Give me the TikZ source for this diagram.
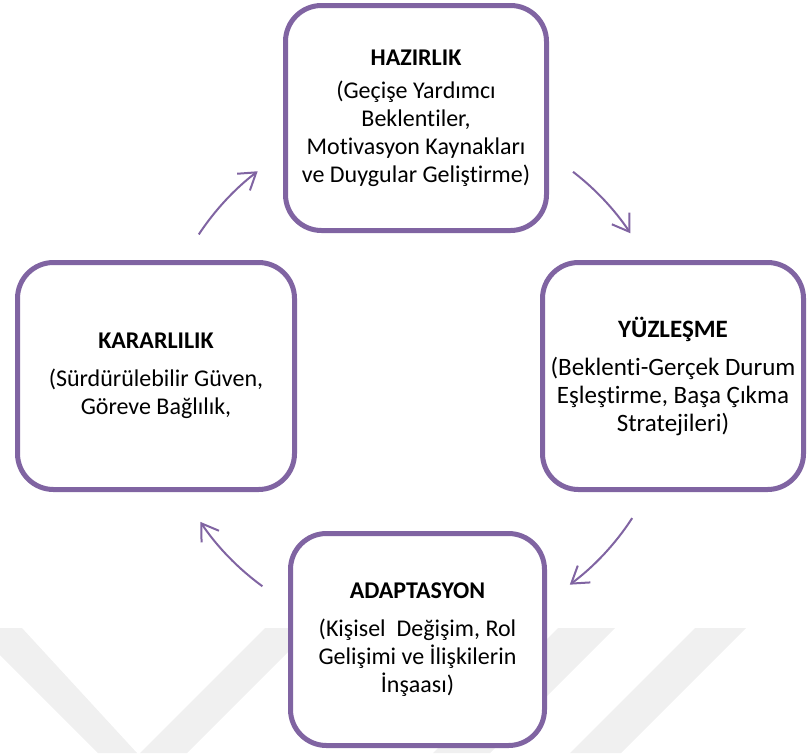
\documentclass[tikz,border=0pt]{standalone}
\usepackage{fontspec}
\setmainfont{Carlito}[Ligatures=NoCommon]
\usetikzlibrary{arrows.meta,positioning}
\definecolor{evrePurple}{RGB}{128,100,162}
\tikzstyle{stage}=[draw=evrePurple,line width=5pt,rounded corners=36pt,fill=white,align=center,font=\fontsize{24}{28}\selectfont]
\tikzstyle{cycle}=[draw=evrePurple,line width=2pt,-{Straight Barb[length=16pt,width=21pt]}]
\tikzstyle{mark bg}=[fill=black!6]

\begin{document}
\begin{tikzpicture}[x=1pt,y=-1pt]
\useasboundingbox (0,0) rectangle (808,753);
% faint watermark bands
\fill[mark bg] (0,628) -- (22,628) -- (137,753) -- (98,753) -- (0,655) -- cycle;
\fill[mark bg] (140,753) -- (187,753) -- (312,628) -- (265,628) -- cycle;
\fill[mark bg] (558,628) -- (615,628) -- (490,753) -- (433,753) -- cycle;
\fill[mark bg] (695,628) -- (746,628) -- (621,753) -- (570,753) -- cycle;

\node [stage,minimum width=261pt,minimum height=225pt] (hazirlik) at (416,118)
    {\textbf{HAZIRLIK}\\[5pt] (Geçişe Yardımcı\\ Beklentiler,\\ Motivasyon Kaynakları\\ ve Duygular Geliştirme)};
\node [stage,minimum width=261pt,minimum height=227pt,font=\fontsize{25}{28}\selectfont] (yuzlesme) at (673,376)
    {\textbf{YÜZLEŞME}\\[10pt] (Beklenti-Gerçek Durum\\ Eşleştirme, Başa Çıkma\\ Stratejileri)};
\node [stage,minimum width=254pt,minimum height=212pt] (adaptasyon) at (417.5,639.5)
    {\textbf{ADAPTASYON}\\[10pt] (Kişisel\ \ Değişim, Rol\\ Gelişimi ve İlişkilerin\\ İnşaası)};
\node [stage,minimum width=277pt,minimum height=227pt] (kararlilik) at (156,376)
    {\textbf{KARARLILIK}\\[10pt] (Sürdürülebilir Güven,\\ Göreve Bağlılık,};

% cycle arrows on a circle round the middle
\coordinate (mid) at (415,377);
\coordinate (a1) at ([shift={(-146.6:259)}]mid);
\coordinate (a2) at ([shift={(-52.4:259)}]mid);
\coordinate (a3) at ([shift={(33:259)}]mid);
\coordinate (a4) at ([shift={(126.1:259)}]mid);
\draw [cycle] (a1) arc [start angle=-146.6, end angle=-127.4, radius=259];
\draw [cycle] (a2) arc [start angle=-52.4, end angle=-33.7, radius=259];
\draw [cycle] (a3) arc [start angle=33, end angle=53.3, radius=259];
\draw [cycle] (a4) arc [start angle=126.1, end angle=146, radius=259];
\end{tikzpicture}
\end{document}
